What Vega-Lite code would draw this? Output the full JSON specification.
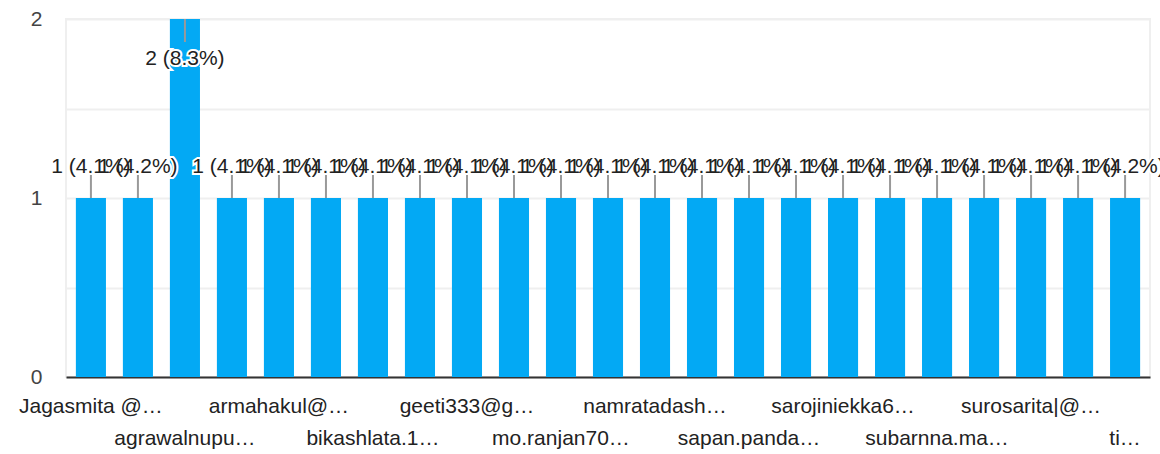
{
  "$schema": "https://vega.github.io/schema/vega-lite/v6.json",
  "width": 1084,
  "height": 358,
  "autosize": {"type": "none"},
  "padding": {"left": 66, "top": 19, "right": 10, "bottom": 77},
  "config": {"view": {"stroke": "#efefef", "strokeWidth": 2}, "font": "Liberation Sans"},
  "data": {
    "values": [
      {"name": "Jagasmita @…", "count": 1, "label": "1 (4.1%)"},
      {"name": "respondent 02", "count": 1, "label": "1 (4.2%)"},
      {"name": "agrawalnupu…", "count": 2, "label": "2 (8.3%)"},
      {"name": "respondent 04", "count": 1, "label": "1 (4.1%)"},
      {"name": "armahakul@…", "count": 1, "label": "1 (4.1%)"},
      {"name": "respondent 06", "count": 1, "label": "1 (4.1%)"},
      {"name": "bikashlata.1…", "count": 1, "label": "1 (4.1%)"},
      {"name": "respondent 08", "count": 1, "label": "1 (4.1%)"},
      {"name": "geeti333@g…", "count": 1, "label": "1 (4.1%)"},
      {"name": "respondent 10", "count": 1, "label": "1 (4.1%)"},
      {"name": "mo.ranjan70…", "count": 1, "label": "1 (4.1%)"},
      {"name": "respondent 12", "count": 1, "label": "1 (4.1%)"},
      {"name": "namratadash…", "count": 1, "label": "1 (4.1%)"},
      {"name": "respondent 14", "count": 1, "label": "1 (4.1%)"},
      {"name": "sapan.panda…", "count": 1, "label": "1 (4.1%)"},
      {"name": "respondent 16", "count": 1, "label": "1 (4.1%)"},
      {"name": "sarojiniekka6…", "count": 1, "label": "1 (4.1%)"},
      {"name": "respondent 18", "count": 1, "label": "1 (4.1%)"},
      {"name": "subarnna.ma…", "count": 1, "label": "1 (4.1%)"},
      {"name": "respondent 20", "count": 1, "label": "1 (4.1%)"},
      {"name": "surosarita|@…", "count": 1, "label": "1 (4.1%)"},
      {"name": "respondent 22", "count": 1, "label": "1 (4.1%)"},
      {"name": "ti…", "count": 1, "label": "1 (4.2%)"}
    ]
  },
  "encoding": {
    "x": {
      "field": "name",
      "type": "nominal",
      "sort": null,
      "scale": {"paddingInner": 0.36, "paddingOuter": 0.21},
      "axis": {
        "title": null,
        "domainColor": "#333333",
        "domainWidth": 2,
        "ticks": false,
        "grid": false,
        "labelAngle": 0,
        "labelFont": "Liberation Sans",
        "labelFontSize": 21,
        "labelColor": "#222222",
        "labelPadding": 18,
        "labelLineHeight": 32,
        "labelBaseline": "top",
        "labelOverlap": false,
        "labelLimit": 400,
        "labelExpr": "round(datum.index * 22) % 2 == 1 ? '' : (round(datum.index * 22) % 4 == 2 ? ['', datum.label] : datum.label)"
      }
    }
  },
  "layer": [
    {
      "mark": {"type": "bar", "color": "#03a9f4"},
      "encoding": {
        "y": {
          "field": "count",
          "type": "quantitative",
          "scale": {"domain": [0, 2], "nice": false},
          "axis": {
            "title": null,
            "values": [0, 0.5, 1, 1.5, 2],
            "labelExpr": "datum.value % 1 == 0 ? format(datum.value, 'd') : ''",
            "ticks": false,
            "domain": false,
            "gridColor": "#efefef",
            "gridWidth": 2,
            "labelFont": "Liberation Sans",
            "labelFontSize": 21,
            "labelColor": "#444444",
            "labelPadding": 24
          }
        }
      }
    },
    {
      "transform": [{"filter": "datum.count < 2"}],
      "mark": {"type": "rule", "color": "#999999", "strokeWidth": 2, "y2Offset": -25},
      "encoding": {"y": {"field": "count", "type": "quantitative"}, "y2": {"field": "count"}}
    },
    {
      "transform": [{"filter": "datum.count >= 2"}],
      "mark": {"type": "rule", "color": "#999999", "strokeWidth": 2, "y2Offset": 23},
      "encoding": {"y": {"field": "count", "type": "quantitative"}, "y2": {"field": "count"}}
    },
    {
      "transform": [{"filter": "datum.count < 2"}],
      "mark": {"type": "text", "fill": "white", "stroke": "white", "strokeWidth": 4, "fontSize": 21, "font": "Liberation Sans", "baseline": "alphabetic", "dy": -25},
      "encoding": {"y": {"field": "count", "type": "quantitative"}, "text": {"field": "label"}}
    },
    {
      "transform": [{"filter": "datum.count < 2"}],
      "mark": {"type": "text", "fill": "#222222", "fontSize": 21, "font": "Liberation Sans", "baseline": "alphabetic", "dy": -25},
      "encoding": {"y": {"field": "count", "type": "quantitative"}, "text": {"field": "label"}}
    },
    {
      "transform": [{"filter": "datum.count >= 2"}],
      "mark": {"type": "text", "fill": "white", "stroke": "white", "strokeWidth": 4, "fontSize": 21, "font": "Liberation Sans", "baseline": "alphabetic", "dy": 46},
      "encoding": {"y": {"field": "count", "type": "quantitative"}, "text": {"field": "label"}}
    },
    {
      "transform": [{"filter": "datum.count >= 2"}],
      "mark": {"type": "text", "fill": "#222222", "fontSize": 21, "font": "Liberation Sans", "baseline": "alphabetic", "dy": 46},
      "encoding": {"y": {"field": "count", "type": "quantitative"}, "text": {"field": "label"}}
    }
  ]
}
